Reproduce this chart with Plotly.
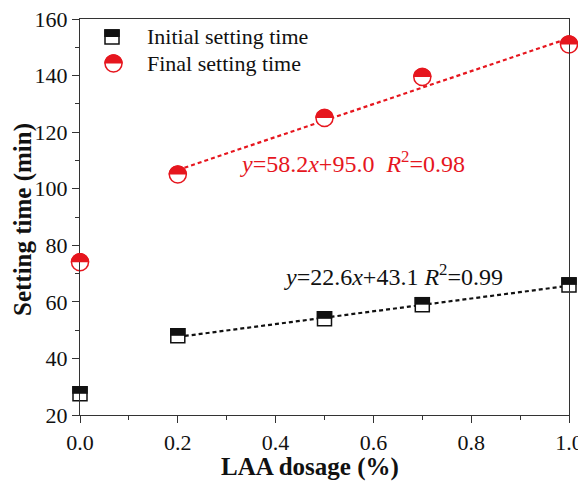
import math
import plotly.graph_objects as go

# ---- data ----
dosage = [0.0, 0.2, 0.5, 0.7, 1.0]
initial_time = [27.5, 48.0, 54.0, 59.0, 66.0]
final_time = [74.0, 105.0, 125.0, 139.5, 151.0]

fit_x = [0.2, 1.0]
initial_fit = (22.6, 43.1)   # slope, intercept
final_fit = (58.2, 95.0)

x_ticks = [0.0, 0.2, 0.4, 0.6, 0.8, 1.0]
y_ticks = [20, 40, 60, 80, 100, 120, 140, 160]

series_names = ["Initial setting time", "Final setting time"]
eq_initial = "<i>y</i>=22.6<i>x</i>+43.1 <i>R</i><sup>2</sup>=0.99"
eq_final = "<i>y</i>=58.2<i>x</i>+95.0  <i>R</i><sup>2</sup>=0.98"

BLACK = "#111111"
RED = "#E6161E"
AX = "#333333"
FONT = "Liberation Serif, Times New Roman, serif"

# page body has an 8px margin -> size the figure so it fits the window
OFF = 8
W, H = 586 - OFF, 481 - OFF
ML, MT = 80 - OFF, 19 - OFF
PW, PH = 489, 396
MR, MB = W - ML - PW, H - MT - PH


def px(xr):
    return (xr - OFF - ML) / PW


def py(yr):
    return (MT + PH - (yr - OFF)) / PH


SQ = 14      # square marker size
CI = 17      # circle marker size


def half_circle_path(r, n=24):
    pts = []
    for i in range(n + 1):
        a = math.pi * i / n
        pts.append((r * math.cos(a), r * math.sin(a)))
    return "M " + " L ".join(f"{a:.2f},{b:.2f}" for a, b in pts) + " Z"


fig = go.Figure()

# fit lines
fig.add_trace(go.Scatter(
    x=fit_x, y=[initial_fit[0] * v + initial_fit[1] for v in fit_x],
    mode="lines", line=dict(color=BLACK, width=2.2, dash="4px,3px"),
    showlegend=False, hoverinfo="skip"))
fig.add_trace(go.Scatter(
    x=fit_x, y=[final_fit[0] * v + final_fit[1] for v in fit_x],
    mode="lines", line=dict(color=RED, width=2.2, dash="4px,3px"),
    showlegend=False, hoverinfo="skip"))

# markers (white body, outline)
fig.add_trace(go.Scatter(
    x=dosage, y=initial_time, mode="markers", name=series_names[0],
    marker=dict(symbol="square", size=SQ, color="white",
                line=dict(color=BLACK, width=1.5)),
    cliponaxis=False, showlegend=False))
fig.add_trace(go.Scatter(
    x=dosage, y=final_time, mode="markers", name=series_names[1],
    marker=dict(symbol="circle", size=CI, color="white",
                line=dict(color=RED, width=1.5)),
    cliponaxis=False, showlegend=False))

shapes = []
# filled upper halves on data markers (x range [0,1] coincides with the paper domain)
for xv, yv in zip(dosage, initial_time):
    shapes.append(dict(type="rect", xref="paper", yref="y",
                       xsizemode="pixel", ysizemode="pixel",
                       xanchor=xv, yanchor=yv,
                       x0=-SQ / 2 - 0.75, x1=SQ / 2 + 0.75, y0=0, y1=SQ / 2 + 0.75,
                       fillcolor=BLACK, line=dict(width=0), layer="above"))
for xv, yv in zip(dosage, final_time):
    shapes.append(dict(type="path", xref="paper", yref="y",
                       xsizemode="pixel", ysizemode="pixel",
                       xanchor=xv, yanchor=yv,
                       path=half_circle_path(CI / 2 + 0.75),
                       fillcolor=RED, line=dict(width=0), layer="above"))

# manual legend (half-filled symbols)
lx0, ly0 = px(112), py(37)
lx1, ly1 = px(113.5), py(63.5)
shapes += [
    dict(type="rect", xref="paper", yref="paper",
         xsizemode="pixel", ysizemode="pixel", xanchor=lx0, yanchor=ly0,
         x0=-SQ / 2, x1=SQ / 2, y0=-SQ / 2, y1=SQ / 2,
         fillcolor="white", line=dict(color=BLACK, width=1.5), layer="above"),
    dict(type="rect", xref="paper", yref="paper",
         xsizemode="pixel", ysizemode="pixel", xanchor=lx0, yanchor=ly0,
         x0=-SQ / 2 - 0.75, x1=SQ / 2 + 0.75, y0=0, y1=SQ / 2 + 0.75,
         fillcolor=BLACK, line=dict(width=0), layer="above"),
    dict(type="circle", xref="paper", yref="paper",
         xsizemode="pixel", ysizemode="pixel", xanchor=lx1, yanchor=ly1,
         x0=-CI / 2, x1=CI / 2, y0=-CI / 2, y1=CI / 2,
         fillcolor="white", line=dict(color=RED, width=1.5), layer="above"),
    dict(type="path", xref="paper", yref="paper",
         xsizemode="pixel", ysizemode="pixel", xanchor=lx1, yanchor=ly1,
         path=half_circle_path(CI / 2 + 0.75),
         fillcolor=RED, line=dict(width=0), layer="above"),
]

annotations = [
    dict(text=series_names[0], xref="paper", yref="paper",
         x=px(145), y=ly0, xanchor="left", yanchor="middle",
         showarrow=False, font=dict(family=FONT, size=22, color=BLACK)),
    dict(text=series_names[1], xref="paper", yref="paper",
         x=px(145), y=ly1, xanchor="left", yanchor="middle",
         showarrow=False, font=dict(family=FONT, size=22, color=BLACK)),
    dict(text=eq_final, xref="paper", yref="paper", x=px(352.5), y=py(162),
         xanchor="center", yanchor="middle", showarrow=False,
         font=dict(family=FONT, size=24, color=RED)),
    dict(text=eq_initial, xref="paper", yref="paper", x=px(393), y=py(275),
         xanchor="center", yanchor="middle", showarrow=False,
         font=dict(family=FONT, size=24, color=BLACK)),
    dict(text="<b>LAA dosage (%)</b>", xref="paper", yref="paper",
         x=px(310), y=py(467), xanchor="center", yanchor="middle",
         showarrow=False, font=dict(family=FONT, size=25, color=BLACK)),
    dict(text="<b>Setting time (min)</b>", xref="paper", yref="paper",
         x=px(23), y=py(220), xanchor="center", yanchor="middle",
         textangle=-90, showarrow=False, font=dict(family=FONT, size=25, color=BLACK)),
]

axis_common = dict(
    showline=True, linecolor=AX, linewidth=1.3, mirror=True,
    ticks="outside", ticklen=7, tickwidth=1.3, tickcolor=AX,
    showgrid=False, zeroline=False, automargin=False,
    ticklabeloverflow="allow",
    tickfont=dict(family=FONT, size=22, color=BLACK),
)

fig.update_layout(
    template="none",
    width=W, height=H,
    margin=dict(l=ML, r=MR, t=MT, b=MB, pad=0, autoexpand=False),
    font=dict(family=FONT, size=22, color=BLACK),
    paper_bgcolor="white", plot_bgcolor="white",
    showlegend=False,
    shapes=shapes, annotations=annotations,
    xaxis=dict(range=[0, 1], tickvals=x_ticks,
               ticktext=[f"{v:.1f}" for v in x_ticks],
               minor=dict(ticks="outside", ticklen=4, dtick=0.1, tickcolor=AX, tickwidth=1.3),
               **axis_common),
    yaxis=dict(range=[20, 160], tickvals=y_ticks,
               ticktext=[str(v) for v in y_ticks],
               minor=dict(ticks="outside", ticklen=4, dtick=10, tickcolor=AX, tickwidth=1.3),
               **axis_common),
)

fig.write_html("out.html")
